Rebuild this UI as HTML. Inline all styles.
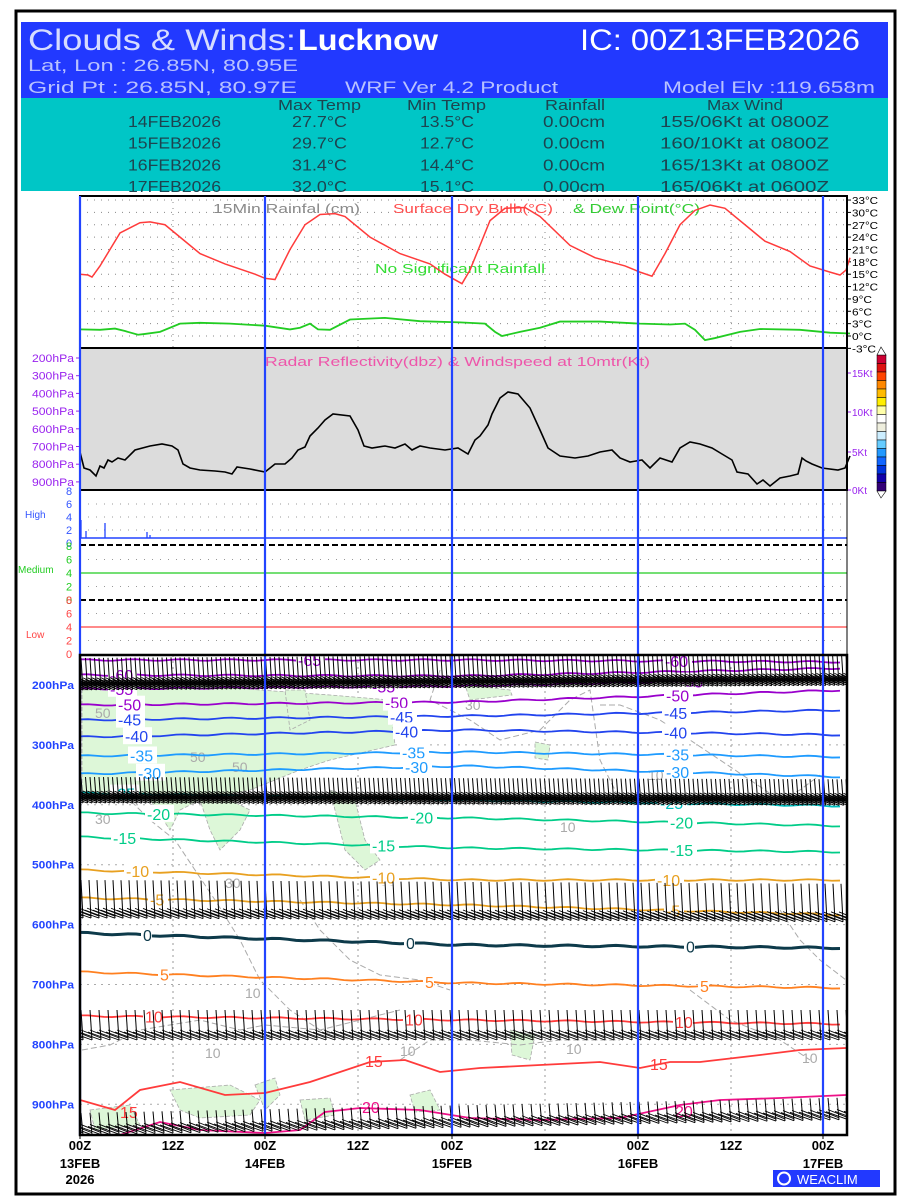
<!DOCTYPE html>
<html><head><meta charset="utf-8"><style>
html,body{margin:0;padding:0;background:#fff;width:900px;height:1200px;overflow:hidden}
svg{display:block;font-family:"Liberation Sans",sans-serif}
</style></head><body>
<svg id="s" width="900" height="1200" viewBox="0 0 900 1200" xmlns="http://www.w3.org/2000/svg">
<defs><clipPath id="cp"><rect x="80" y="655" width="767" height="480"/></clipPath></defs>
<rect x="0" y="0" width="900" height="1200" fill="#fff"/>
<rect x="16" y="11" width="879" height="1183" fill="none" stroke="#000" stroke-width="3"/>
<rect x="21" y="22" width="867" height="76" fill="#2239ff"/>
<rect x="21" y="98" width="867" height="93" fill="#00c6c6"/>
<text x="28" y="50" font-size="30" fill="#d6dcff" textLength="268" lengthAdjust="spacingAndGlyphs">Clouds &amp; Winds:</text>
<text x="298" y="50" font-size="30" font-weight="bold" fill="#fff" textLength="140" lengthAdjust="spacingAndGlyphs">Lucknow</text>
<text x="580" y="50" font-size="30" fill="#fff" textLength="280" lengthAdjust="spacingAndGlyphs">IC: 00Z13FEB2026</text>
<g font-size="17" fill="#b8c2ff">
<text x="28" y="71" textLength="270" lengthAdjust="spacingAndGlyphs">Lat, Lon : 26.85N, 80.95E</text>
<text x="28" y="93" textLength="269" lengthAdjust="spacingAndGlyphs">Grid Pt  : 26.85N, 80.97E</text>
<text x="345" y="93" textLength="213" lengthAdjust="spacingAndGlyphs">WRF Ver 4.2 Product</text>
<text x="663" y="93" textLength="212" lengthAdjust="spacingAndGlyphs">Model Elv :119.658m</text>
</g>
<g font-size="15" fill="#1d4450">
<text x="278" y="110" textLength="83" lengthAdjust="spacingAndGlyphs">Max Temp</text>
<text x="407" y="110" textLength="79" lengthAdjust="spacingAndGlyphs">Min Temp</text>
<text x="545" y="110" textLength="60" lengthAdjust="spacingAndGlyphs">Rainfall</text>
<text x="707" y="110" textLength="76" lengthAdjust="spacingAndGlyphs">Max Wind</text>
</g>
<g font-size="16" fill="#1d4450" id="tbl"></g>
<g id="g"></g>
</svg>
<script>
var S=document.getElementById('g'),NS='http://www.w3.org/2000/svg';
function el(t,a,txt,p){var e=document.createElementNS(NS,t);for(var k in a)e.setAttribute(k,a[k]);if(txt!=null)e.textContent=txt;(p||S).appendChild(e);return e;}
function pl(pts,st,w,extra,p){var a={points:pts.map(function(q){return q.join(',')}).join(' '),fill:'none',stroke:st,'stroke-width':w||1.5};for(var k in extra)a[k]=extra[k];return el('polyline',a,null,p);}
var T=document.getElementById('tbl');
var rows=[['14FEB2026','27.7°C','13.5°C','0.00cm','155/06Kt at 0800Z'],['15FEB2026','29.7°C','12.7°C','0.00cm','160/10Kt at 0800Z'],['16FEB2026','31.4°C','14.4°C','0.00cm','165/13Kt at 0800Z'],['17FEB2026','32.0°C','15.1°C','0.00cm','165/06Kt at 0600Z']];
var cx=[[128,93],[292,55],[420,54],[543,62],[660,169]];
rows.forEach(function(r,i){r.forEach(function(t,j){el('text',{x:cx[j][0],y:127+i*21.7,textLength:cx[j][1],lengthAdjust:'spacingAndGlyphs'},t,T);});});
var L=80,R=847,VX=[80,265,452,638,823],MX=[173,358,545,731];
el('rect',{x:L,y:196,width:R-L,height:152,fill:'#fff'});
function Ty(t){return 336-t*4.12;}
for(var t=-3;t<=33;t+=3){var y=Ty(t);el('line',{x1:L,y1:y,x2:R,y2:y,stroke:'#888','stroke-dasharray':'1,6'});el('line',{x1:R,y1:y,x2:R+4,y2:y,stroke:'#000'});el('text',{x:R+5,y:y+4,'font-size':10,fill:'#000',textLength:t<0?24:(t<10?20:26),lengthAdjust:'spacingAndGlyphs'},t+'°C');}
MX.forEach(function(x){el('line',{x1:x,y1:196,x2:x,y2:348,stroke:'#888','stroke-dasharray':'1,5'});});
el('text',{x:213,y:213,'font-size':13,fill:'#8a8a8a',textLength:147,lengthAdjust:'spacingAndGlyphs'},'15Min Rainfal (cm)');
el('text',{x:393,y:213,'font-size':13,fill:'#ff5050',textLength:160,lengthAdjust:'spacingAndGlyphs'},'Surface Dry Bulb(°C)');
el('text',{x:573,y:213,'font-size':13,fill:'#33cc33',textLength:127,lengthAdjust:'spacingAndGlyphs'},'& Dew Point(°C)');
el('text',{x:375,y:273,'font-size':13,fill:'#33dd33',textLength:170,lengthAdjust:'spacingAndGlyphs'},'No Significant Rainfall');
var red=[[80,15],[88,14.8],[92,14.3],[100,17],[120,25],[140,27.5],[150,27.7],[165,27],[185,23],[200,20],[225,17.5],[255,15],[265,14],[275,13.7],[290,21],[305,27],[320,29.5],[335,29.7],[345,29],[370,24],[400,20],[430,17.5],[445,15],[462,12.7],[470,16],[480,22],[490,28],[505,31],[525,31.2],[540,29],[570,22],[595,19],[625,17],[640,15.5],[652,14.5],[665,20],[680,27],[695,30.5],[710,31.8],[725,31],[750,26],[765,23],[790,20.5],[810,17],[830,15.5],[840,14.8],[846,16],[850,19]];
pl(red.map(function(p){return [p[0],Ty(p[1])]}),'#ff3b3b',1.5);
var grn=[[80,1.6],[100,1.5],[115,1.8],[125,1.2],[138,0.3],[145,0.5],[160,1],[180,3],[200,3.2],[230,3],[265,2.5],[290,1.6],[300,2],[310,3],[318,1.6],[330,1.5],[350,4],[385,4.4],[420,3.6],[460,3.3],[485,3],[495,1],[502,0],[520,1],[540,2],[560,3.5],[600,3.5],[640,3],[670,2.8],[685,3.0],[695,1.5],[705,-1],[715,-0.5],[740,1],[760,1.7],[800,1.5],[830,0.8],[850,0.6]];
pl(grn.map(function(p){return [p[0],Ty(p[1])]}),'#22cc22',1.8);
el('rect',{x:L,y:196,width:R-L,height:152,fill:'none',stroke:'#000','stroke-width':2});
el('rect',{x:L,y:348,width:R-L,height:142,fill:'#dcdcdc'});
['200hPa','300hPa','400hPa','500hPa','600hPa','700hPa','800hPa','900hPa'].forEach(function(t,i){var y=358+i*17.7;el('text',{x:32,y:y+4,'font-size':11,fill:'#9922ee',textLength:42,lengthAdjust:'spacingAndGlyphs'},t);el('line',{x1:76,y1:y,x2:80,y2:y,stroke:'#9922ee'});});
[[15,373],[10,412],[5,452],[0,490]].forEach(function(a){el('line',{x1:R,y1:a[1],x2:R+4,y2:a[1],stroke:'#9922ee'});el('text',{x:R+5,y:a[1]+4,'font-size':10,fill:'#9922ee'},a[0]+'Kt');});
el('text',{x:265,y:366,'font-size':13,fill:'#ee55aa',textLength:385,lengthAdjust:'spacingAndGlyphs'},'Radar Reflectivity(dbz) & Windspeed at 10mtr(Kt)');
var rad=[[80,452],[84,468],[90,470],[96,476],[100,466],[104,468],[108,460],[112,462],[118,458],[125,460],[135,450],[150,446],[162,444],[172,446],[178,450],[183,464],[190,468],[200,470],[215,471],[225,472],[232,474],[237,467],[250,469],[265,472],[275,464],[285,464],[292,458],[298,450],[305,447],[310,436],[318,428],[325,420],[333,414],[350,416],[358,430],[364,446],[372,448],[385,446],[395,448],[405,444],[412,450],[420,446],[430,448],[445,450],[458,448],[468,454],[475,440],[480,436],[488,425],[492,414],[500,398],[508,392],[518,394],[530,408],[540,430],[548,448],[560,456],[575,458],[588,456],[600,452],[612,450],[620,458],[630,462],[642,460],[650,468],[660,458],[672,462],[680,448],[690,442],[700,444],[712,448],[722,454],[732,460],[737,472],[748,474],[757,484],[763,480],[770,486],[780,478],[790,476],[798,474],[802,458],[806,461],[812,464],[822,468],[838,470],[845,468],[850,456]];
pl(rad,'#000',1.6);
el('rect',{x:L,y:348,width:R-L,height:142,fill:'none',stroke:'#000','stroke-width':2});
var cb=['#cc0033','#dd1111','#ff4400','#ff8800','#ffbb00','#ffee00','#ffffaa','#ffffff','#eeeedd','#cceeff','#66ccff','#2299ff','#1166ff','#0033dd','#1100aa','#330077'];
cb.forEach(function(c,i){el('rect',{x:877,y:355+i*8.5,width:9,height:8.5,fill:c,stroke:'#000','stroke-width':0.5});});
el('path',{d:'M877,355 L881,347 L886,355 Z M877,491 L881,498 L886,491 Z',fill:'#fff',stroke:'#000','stroke-width':0.6});
function cpan(y0,y1,col,name,ly,lx){el('text',{x:lx,y:ly,'font-size':10,fill:col},name);
 [8,6,4,2,0].forEach(function(v,i){var y=y0+i*(y1-y0)/4;el('text',{x:66,y:y+4,'font-size':11,fill:col},v);if(i>0&&i<4)el('line',{x1:L,y1:y,x2:R,y2:y,stroke:'#999','stroke-dasharray':'1,7'});});}
cpan(491,543,'#3355ff','High',518,25);
cpan(546,600,'#22cc22','Medium',573,18);
cpan(600,654,'#ff4444','Low',638,26);
el('line',{x1:L,y1:538,x2:R,y2:538,stroke:'#2244ff','stroke-width':1.5});
[[81,520],[86,531],[105,523],[147,532],[150,535]].forEach(function(a){el('line',{x1:a[0],y1:a[1],x2:a[0],y2:538,stroke:'#2244ff','stroke-width':1.3});});
el('line',{x1:L,y1:545,x2:R,y2:545,stroke:'#000','stroke-width':2,'stroke-dasharray':'6,3'});
el('line',{x1:L,y1:573,x2:R,y2:573,stroke:'#22cc22','stroke-width':1.3});
el('line',{x1:L,y1:600,x2:R,y2:600,stroke:'#000','stroke-width':2,'stroke-dasharray':'6,3'});
el('line',{x1:L,y1:627,x2:R,y2:627,stroke:'#ff4444','stroke-width':1.3});
el('line',{x1:L,y1:490,x2:L,y2:655,stroke:'#000','stroke-width':1});
el('line',{x1:R,y1:490,x2:R,y2:655,stroke:'#000','stroke-width':1});
var B0=655,B1=1135;
['200hPa','300hPa','400hPa','500hPa','600hPa','700hPa','800hPa','900hPa'].forEach(function(t,i){var y=685+i*59.9;el('text',{x:32,y:y+4,'font-size':11,'font-weight':'bold',fill:'#2244ff',textLength:42,lengthAdjust:'spacingAndGlyphs'},t);el('line',{x1:L,y1:y,x2:R,y2:y,stroke:'#aaa','stroke-dasharray':'2,5'});});
var C=el('g',{'clip-path':'url(#cp)'});
MX.forEach(function(x){el('line',{x1:x,y1:B0,x2:x,y2:B1,stroke:'#999','stroke-dasharray':'2,4'},null,C);});
var gp=['M82,690 L140,688 L200,684 L260,690 L330,695 L390,700 L395,745 L330,760 L300,770 L250,790 L200,800 L180,810 L170,830 L150,800 L120,790 L95,800 L82,790 Z',
'M200,800 L230,800 L250,810 L240,830 L220,850 L210,830 Z','M330,790 L355,800 L365,840 L380,860 L365,870 L345,850 Z',
'M285,690 L305,690 L310,720 L290,730 Z','M465,685 L510,690 L512,695 L470,700 Z','M535,742 L550,745 L548,760 L535,758 Z',
'M170,1090 L230,1085 L260,1100 L250,1115 L200,1118 L180,1110 Z','M255,1085 L275,1078 L280,1095 L265,1110 Z','M90,1110 L130,1105 L140,1125 L95,1130 Z',
'M300,1100 L330,1098 L335,1115 L305,1120 Z','M510,1030 L535,1035 L530,1060 L512,1055 Z','M410,1095 L430,1090 L440,1110 L415,1112 Z'];
gp.forEach(function(d){el('path',{d:d,fill:'#ddf7d8',stroke:'#aaa','stroke-width':0.8,'stroke-dasharray':'4,2'},null,C);});
var gc=[[[82,800],[110,790],[130,800],[150,820],[175,840],[195,870],[215,900],[240,940],[260,980],[290,1010],[320,1030],[350,1040]],
[[400,1060],[430,1040],[470,1040],[520,1045],[560,1040],[620,1040]],[[82,1050],[110,1045],[140,1030],[200,1020],[240,1030],[265,1025],[320,1030],[360,1020],[400,1010]],
[[440,670],[430,700],[470,720],[500,740],[540,730],[570,700],[590,690],[600,760],[620,800]],[[600,705],[620,705],[660,720],[690,740],[720,760],[780,800],[800,790],[820,775]],
[[300,900],[320,930],[350,960],[380,975],[420,980],[450,990]],[[780,910],[800,940],[820,960],[846,980]],[[690,990],[730,1020],[780,1040],[810,1060]]];
gc.forEach(function(p){pl(p,'#aaa',1,{'stroke-dasharray':'6,3'},C);});
[['50',95,718],['50',190,762],['50',232,772],['30',95,824],['30',225,888],['10',245,998],['10',205,1058],['10',400,1056],['30',465,710],['10',648,780],['10',560,832],['30',380,886],['10',802,1063],['10',566,1054]].forEach(function(a){el('text',{x:a[1],y:a[2],'font-size':14,fill:'#aaa'},a[0],C);});
function line(yl,ym,yr,col,w,lbls){var pts=[];for(var x=L;x<=R;x+=8){var f=(x-L)/(R-L);var y=f<0.5?yl+(ym-yl)*f*2:ym+(yr-ym)*(f-0.5)*2;y+=Math.sin(x*0.13)*0.8;pts.push([x,y]);}
 pl(pts,col,w,{},C);(lbls||[]).forEach(function(a){var f=(a[0]-L)/(R-L);var y=f<0.5?yl+(ym-yl)*f*2:ym+(yr-ym)*(f-0.5)*2;el('rect',{x:a[0]-2,y:y-9,width:a[1].length*9+2,height:17,fill:'#fff'},null,C);el('text',{x:a[0],y:y+6,'font-size':16,fill:col},a[1],C);});}
line(660,660,662,'#9900cc',1.8,[[298,'-65'],[665,'-60']]);
line(675,676,668,'#9900cc',1.8,[[110,'-60']]);
line(689,686,678,'#9900cc',1.8,[[110,'-55'],[372,'-55'],[680,'-55']]);
line(705,702,690,'#9900cc',1.8,[[118,'-50'],[385,'-50'],[666,'-50']]);
line(720,716,710,'#2244ee',1.8,[[118,'-45'],[390,'-45'],[664,'-45']]);
line(737,730,735,'#2244ee',1.8,[[125,'-40'],[395,'-40'],[664,'-40']]);
line(756,752,757,'#1e9bff',1.8,[[130,'-35'],[402,'-35'],[666,'-35']]);
line(774,766,777,'#1e9bff',1.8,[[138,'-30'],[405,'-30'],[666,'-30']]);
line(793,800,806,'#00c0c0',1.8,[[112,'-25'],[660,'-25']]);
line(813,818,826,'#00cc88',1.8,[[147,'-20'],[410,'-20'],[670,'-20']]);
line(837,848,852,'#00cc88',1.8,[[113,'-15'],[372,'-15'],[670,'-15']]);
line(870,880,880,'#e8a020',1.8,[[126,'-10'],[372,'-10'],[657,'-10']]);
line(898,905,915,'#e8a020',1.8,[[150,'-5'],[666,'-5']]);
line(933,945,948,'#0d3a4a',3,[[143,'0'],[406,'0'],[686,'0']]);
line(972,983,988,'#ff8020',1.8,[[160,'5'],[425,'5'],[700,'5']]);
line(1016,1020,1024,'#ff3b3b',1.8,[[145,'10'],[405,'10'],[675,'10']]);
pl([[80,1100],[115,1110],[140,1090],[180,1082],[225,1095],[265,1093],[310,1082],[370,1062],[405,1060],[440,1072],[480,1068],[540,1065],[600,1062],[640,1068],[670,1062],[700,1062],[760,1055],[800,1050],[846,1048]],'#ff3b3b',1.8,{},C);
el('text',{x:120,y:1118,'font-size':16,fill:'#ff3b3b'},'15',C);el('text',{x:365,y:1067,'font-size':16,fill:'#ff3b3b'},'15',C);el('text',{x:650,y:1070,'font-size':16,fill:'#ff3b3b'},'15',C);
pl([[120,1135],[160,1122],[200,1130],[265,1133],[300,1130],[325,1112],[360,1108],[420,1110],[470,1118],[540,1120],[620,1118],[680,1105],[720,1100],[780,1098],[846,1095]],'#ee1188',1.8,{},C);
el('text',{x:362,y:1113,'font-size':16,fill:'#ee1188'},'20',C);el('text',{x:675,y:1117,'font-size':16,fill:'#ee1188'},'20',C);
function band(base,h,sp,fl,slope){for(var x=L+3;x<R+20;x+=sp){var b=base+(x-L)*slope;el('line',{x1:x,y1:b,x2:x-2,y2:b-h,stroke:'#000','stroke-width':1},null,C);for(var k=0;k<fl;k++){el('line',{x1:x-22+k*2,y1:b-8-k*2,x2:x,y2:b-k*2,stroke:'#000','stroke-width':0.9},null,C);}}}
band(690,32,4.5,3,-0.006);
band(803,26,4.5,3,0.003);
band(918,38,8,2,0.005);
band(1040,30,9,2,0);
band(1135,22,9,2,-0.02);
VX.forEach(function(x){el('line',{x1:x,y1:196,x2:x,y2:B1,stroke:'#2244ff','stroke-width':2.2});});
el('rect',{x:L,y:B0,width:R-L,height:B1-B0,fill:'none',stroke:'#000','stroke-width':2.5});
var d=['13FEB','14FEB','15FEB','16FEB','17FEB'];
VX.forEach(function(x,i){el('text',{x:x,y:1150,'font-size':13,'font-weight':'bold','text-anchor':'middle'},'00Z');el('text',{x:x,y:1168,'font-size':13,'font-weight':'bold','text-anchor':'middle'},d[i]);el('line',{x1:x,y1:B1,x2:x,y2:B1+4,stroke:'#000'});});
el('text',{x:80,y:1184,'font-size':13,'font-weight':'bold','text-anchor':'middle'},'2026');
MX.forEach(function(x){el('text',{x:x,y:1150,'font-size':13,'font-weight':'bold','text-anchor':'middle'},'12Z');});
el('rect',{x:773,y:1170,width:107,height:17,fill:'#2239ff'});
el('circle',{cx:784,cy:1178.5,r:6,fill:'none',stroke:'#fff','stroke-width':2});
el('text',{x:797,y:1184,'font-size':13,fill:'#fff'},'WEACLIM');
</script>
</body></html>
